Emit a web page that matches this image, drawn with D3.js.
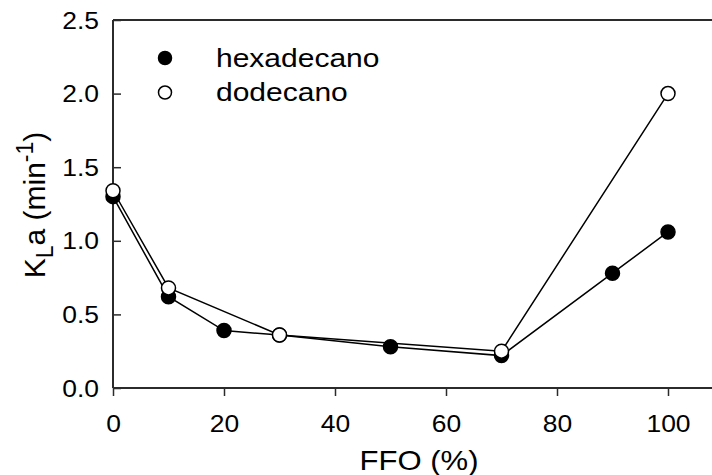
<!DOCTYPE html>
<html>
<head>
<meta charset="utf-8">
<script src="https://cdn.jsdelivr.net/npm/d3@7"></script>
<style>
  html, body { margin: 0; padding: 0; background: #fff; }
  svg { display: block; font-family: "Liberation Sans", Arial, Helvetica, sans-serif; }
</style>
</head>
<body>
<svg id="chart" width="712" height="475"></svg>
<script>
// FFO content (%) on the x axis
const ffo = [0, 10, 20, 30, 50, 70, 90, 100];
const ffoDodecano = [0, 10, 30, 70, 100];
// KLa (min^-1) for each organic phase
const hexadecano = [1.30, 0.62, 0.39, 0.36, 0.28, 0.22, 0.78, 1.06];
const dodecano = [1.34, 0.68, 0.36, 0.25, 2.00];
const xTicks = [0, 20, 40, 60, 80, 100];
const yTicks = [0.0, 0.5, 1.0, 1.5, 2.0, 2.5];
const seriesNames = ["hexadecano", "dodecano"];

const svg = d3.select("#chart");
const SX = 1.15; // horizontal widening of the text glyphs

const x = d3.scaleLinear().domain([0, 110]).range([113, 723.5]);
const y = d3.scaleLinear().domain([0, 2.5]).range([388, 20]);

const axisColor = "#2b2b2b";

// frame: left, bottom, top
svg.append("line").attr("x1", x(0)).attr("x2", x(0)).attr("y1", y(0)).attr("y2", y(2.5))
  .attr("stroke", axisColor).attr("stroke-width", 2);
svg.append("line").attr("x1", x(0)).attr("x2", x(110)).attr("y1", y(0)).attr("y2", y(0))
  .attr("stroke", axisColor).attr("stroke-width", 2);
svg.append("line").attr("x1", x(0)).attr("x2", x(110)).attr("y1", y(2.5)).attr("y2", y(2.5))
  .attr("stroke", axisColor).attr("stroke-width", 2);

// x axis: ticks pointing down
const xAxis = d3.axisBottom(x).tickValues(xTicks).tickSize(8).tickPadding(0).tickFormat(d3.format("d"));
const gx = svg.append("g").attr("transform", `translate(0,${y(0)})`).call(xAxis);
gx.select(".domain").remove();
gx.selectAll(".tick line").attr("stroke", axisColor).attr("stroke-width", 1.5);
gx.selectAll(".tick text").remove();
gx.selectAll(".tick").append("text")
  .attr("transform", `translate(0,44) scale(${SX},1)`)
  .attr("text-anchor", "middle").attr("fill", "#000")
  .style("font-size", "23px")
  .text(d => d3.format("d")(d));

// y axis: ticks pointing into the plot
const yAxis = d3.axisLeft(y).tickValues(yTicks).tickSize(-8).tickPadding(0);
const gy = svg.append("g").attr("transform", `translate(${x(0)},0)`).call(yAxis);
gy.select(".domain").remove();
gy.selectAll(".tick line").attr("stroke", axisColor).attr("stroke-width", 1.5);
gy.selectAll(".tick text").remove();
gy.selectAll(".tick").append("text")
  .attr("transform", `translate(-14,8) scale(${SX},1)`)
  .attr("text-anchor", "end").attr("fill", "#000")
  .style("font-size", "23px")
  .text(d => d3.format(".1f")(d));

// axis titles
svg.append("text")
  .attr("transform", `translate(419,470) scale(${SX},1)`)
  .attr("text-anchor", "middle").style("font-size", "27px").text("FFO (%)");

const yl = svg.append("text")
  .attr("transform", `translate(45,205) rotate(-90)`)
  .attr("text-anchor", "middle").style("font-size", "30px");
yl.append("tspan").text("K");
yl.append("tspan").attr("dy", 8).style("font-size", "23px").text("L");
yl.append("tspan").attr("dy", -8).text("a (min");
yl.append("tspan").attr("dy", -12).style("font-size", "23px").text("-1");
yl.append("tspan").attr("dy", 12).text(")");

const line = d3.line();

function drawSeries(xs, ys, fill) {
  const pts = xs.map((v, i) => [x(v), y(ys[i])]);
  svg.append("path").attr("d", line(pts)).attr("fill", "none")
    .attr("stroke", "#000").attr("stroke-width", 1.5);
  svg.append("g").selectAll("circle").data(pts).join("circle")
    .attr("cx", d => d[0]).attr("cy", d => d[1]).attr("r", 7)
    .attr("fill", fill).attr("stroke", "#000").attr("stroke-width", 1.5);
}

drawSeries(ffo, hexadecano, "#000");
drawSeries(ffoDodecano, dodecano, "#fff");

// legend
const legend = svg.append("g");
const legendFill = ["#000", "#fff"];
seriesNames.forEach((name, i) => {
  const ly = 58 + i * 34.5;
  legend.append("circle").attr("cx", 165).attr("cy", ly).attr("r", 6.5)
    .attr("fill", legendFill[i]).attr("stroke", "#000").attr("stroke-width", 1.5);
  legend.append("text")
    .attr("transform", `translate(216,${ly + 8.5}) scale(1.2,1)`)
    .style("font-size", "25px").text(name);
});
</script>
</body>
</html>
